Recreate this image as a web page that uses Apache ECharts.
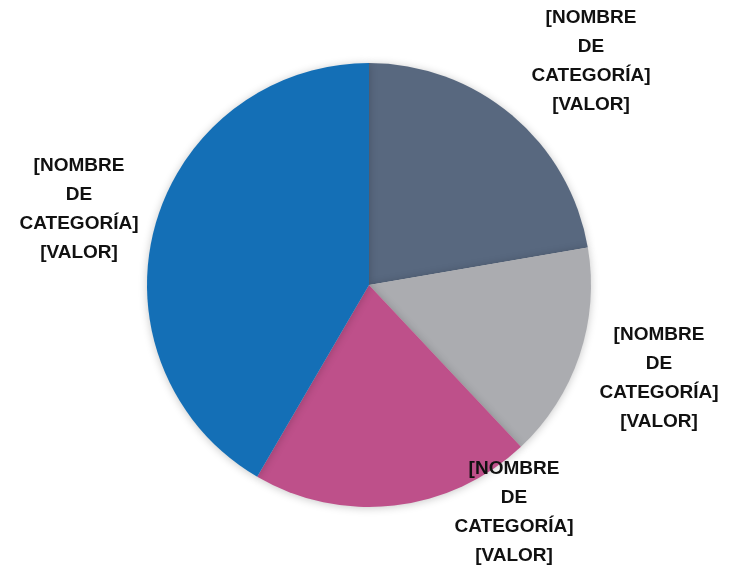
<!DOCTYPE html>
<html>
<head>
<meta charset="utf-8">
<script src="https://cdn.jsdelivr.net/npm/echarts@6/dist/echarts.min.js"></script>
<style>html,body{margin:0;padding:0;background:#fff}#c{width:738px;height:570px}</style>
</head>
<body>
<div id="c"></div>
<script>
var categories = ['[NOMBRE DE CATEGORÍA]', '[NOMBRE DE CATEGORÍA]', '[NOMBRE DE CATEGORÍA]', '[NOMBRE DE CATEGORÍA]'];
var valueLabels = ['[VALOR]', '[VALOR]', '[VALOR]', '[VALOR]'];
var values = [22.3, 15.7, 20.4, 41.6];
var colors = ['#58687f', '#abacb0', '#be508a', '#146fb6'];

var labelPos = [[591, 61], [659, 378], [514, 512], [79, 209]];

var data = values.map(function (v, i) {
  return { value: v, name: categories[i], itemStyle: { color: colors[i] } };
});

var chart = echarts.init(document.getElementById('c'), null, { renderer: 'canvas' });
chart.setOption({
  animation: false,
  backgroundColor: '#ffffff',
  series: [{
    type: 'pie',
    center: [369, 285],
    radius: 222,
    startAngle: 90,
    clockwise: true,
    data: data,
    itemStyle: {
      borderWidth: 0,
      shadowBlur: 8,
      shadowColor: 'rgba(0,0,0,0.22)',
      shadowOffsetY: 1
    },
    emphasis: { disabled: true },
    label: {
      show: true,
      position: 'outside',
      overflow: 'none',
      formatter: function (p) {
        return '[NOMBRE\nDE\nCATEGORÍA]\n' + valueLabels[p.dataIndex];
      },
      fontFamily: 'Liberation Sans',
      fontWeight: 'bold',
      fontSize: 19,
      lineHeight: 29,
      color: '#111111',
      align: 'center'
    },
    labelLine: { show: false },
    labelLayout: function (p) {
      var pos = labelPos[p.dataIndex];
      return { x: pos[0], y: pos[1], align: 'center', verticalAlign: 'middle' };
    }
  }]
});
</script>
</body>
</html>
